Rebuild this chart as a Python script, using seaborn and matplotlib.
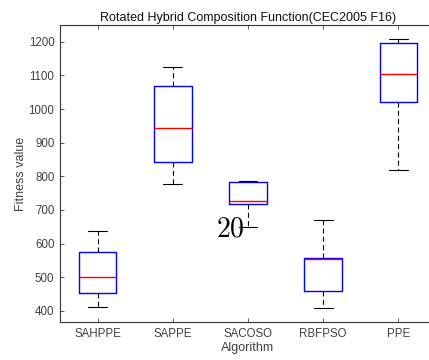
import numpy as np
import pandas as pd
import matplotlib
matplotlib.use("Agg")
import matplotlib.pyplot as plt
import seaborn as sns

algorithms = ["SAHPPE", "SAPPE", "SACOSO", "RBFPSO", "PPE"]
# five-number summaries per algorithm: min, q1, median, q3, max
lower_whisker = [411, 777, 650, 408, 818]
q1 = [452, 842, 719, 459, 1020]
median = [500, 944, 726, 555, 1103]
q3 = [574, 1068, 782, 557, 1196]
upper_whisker = [638, 1126, 786, 670, 1209]

rows = []
for i, a in enumerate(algorithms):
    for v in (lower_whisker[i], q1[i], median[i], q3[i], upper_whisker[i]):
        rows.append({"Algorithm": a, "Fitness value": v})
df = pd.DataFrame(rows)

sns.set_style("white")
plt.rcParams["font.family"] = ["Liberation Sans", "DejaVu Sans"]
plt.rcParams["mathtext.fontset"] = "cm"

fig = plt.figure(figsize=(4.29, 3.6), dpi=100)
ax = fig.add_axes([60 / 429, 1 - 322 / 360, 376 / 429, 297 / 360])

sns.boxplot(data=df, x="Algorithm", y="Fitness value", order=algorithms,
            ax=ax, width=0.5, fill=False, whis=(0, 100), color="blue",
            linewidth=1.0, showfliers=False,
            boxprops=dict(color="#0000ff", linewidth=1.0),
            whiskerprops=dict(color="black", linestyle=(0, (4.5, 3)), linewidth=0.8),
            capprops=dict(color="black", linewidth=0.8),
            medianprops=dict(color="#ff0000", linewidth=1.0))

ax.set_xlim(-0.5, 4.5)
ax.set_ylim(367, 1250)
ax.set_yticks([400, 500, 600, 700, 800, 900, 1000, 1100, 1200])

txtc = "#404040"
ax.set_title("Rotated Hybrid Composition Function(CEC2005 F16)", fontsize=9, color="#111111", pad=3)
ax.set_xlabel("Algorithm", fontsize=9, color=txtc, labelpad=2)
ax.set_ylabel("Fitness value", fontsize=9, color=txtc, labelpad=1)
ax.tick_params(axis="both", labelsize=8.3, colors=txtc, direction="in", length=3, width=0.6,
               top=True, right=True, bottom=True, left=True, pad=4)
for s in ax.spines.values():
    s.set_visible(True)
    s.set_color("#333333")
    s.set_linewidth(0.8)

ax.text(1.765, 620, "$20$", fontsize=20, ha="center", va="baseline", color="black")

fig.savefig("out.png", dpi=100)
